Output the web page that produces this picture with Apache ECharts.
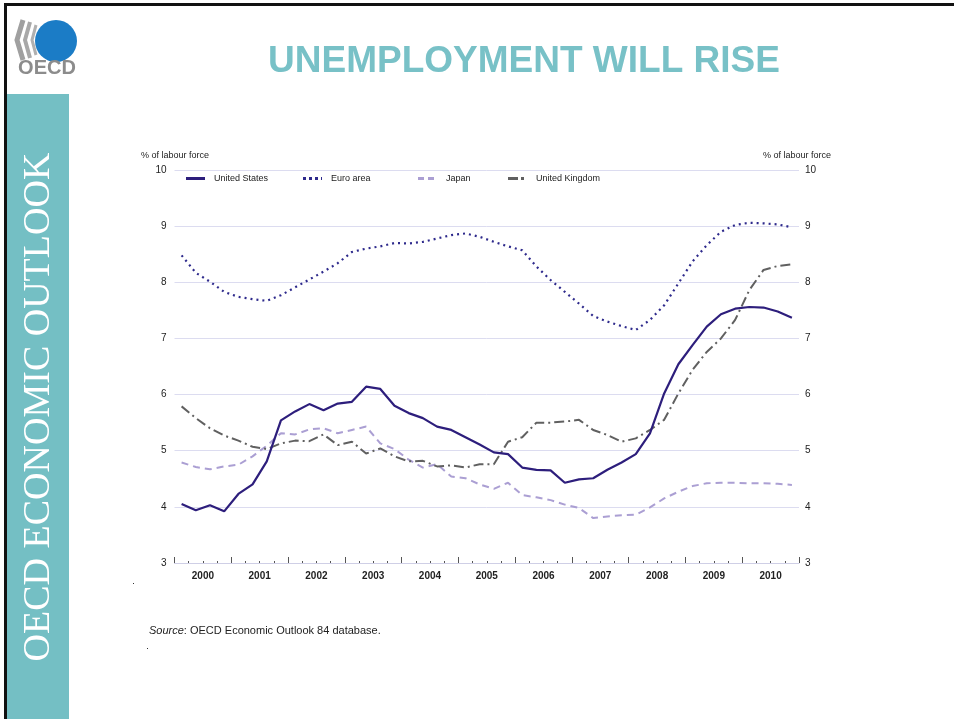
<!DOCTYPE html>
<html>
<head>
<meta charset="utf-8">
<script src="https://cdn.jsdelivr.net/npm/echarts@6/dist/echarts.min.js"></script>
<style>
html,body{margin:0;padding:0;background:#fff;}
#chart{width:954px;height:719px;}
</style>
</head>
<body>
<div id="chart"></div>
<script>
var years = ['2000','2001','2002','2003','2004','2005','2006','2007','2008','2009','2010'];
var quarters = [];
years.forEach(function(y){ ['Q1','Q2','Q3','Q4'].forEach(function(q){ quarters.push(y + q); }); });

var unitedStates = [4.05,3.94,4.03,3.92, 4.23,4.40,4.81,5.54, 5.70,5.83,5.72,5.84, 5.87,6.14,6.10,5.80,
  5.67,5.58,5.43,5.37, 5.24,5.11,4.97,4.94, 4.70,4.66,4.65,4.43, 4.49,4.51,4.66,4.79,
  4.94,5.31,6.02,6.54, 6.88,7.21,7.43,7.53, 7.56,7.55,7.48,7.37];
var euroArea = [8.48,8.17,8.01,7.83, 7.74,7.70,7.67,7.77, 7.91,8.05,8.19,8.34, 8.54,8.60,8.64,8.70,
  8.69,8.72,8.78,8.84, 8.87,8.81,8.72,8.64, 8.57,8.28,8.04,7.83, 7.62,7.40,7.30,7.22,
  7.15,7.33,7.59,7.98, 8.37,8.66,8.90,9.02, 9.06,9.05,9.03,8.98];
var japan = [4.79,4.71,4.67,4.72, 4.75,4.90,5.09,5.31, 5.29,5.38,5.40,5.31, 5.37,5.43,5.13,5.03,
  4.84,4.70,4.76,4.54, 4.51,4.40,4.32,4.43, 4.21,4.17,4.12,4.04, 3.98,3.80,3.83,3.85,
  3.86,3.99,4.15,4.27, 4.37,4.42,4.43,4.43, 4.42,4.42,4.41,4.39];
var unitedKingdom = [5.79,5.58,5.40,5.27, 5.18,5.07,5.03,5.13, 5.18,5.17,5.29,5.10, 5.16,4.95,5.04,4.90,
  4.81,4.82,4.72,4.74, 4.70,4.76,4.76,5.16, 5.24,5.50,5.50,5.52, 5.55,5.37,5.28,5.16,
  5.22,5.37,5.55,6.02, 6.44,6.76,7.00,7.33, 7.86,8.22,8.29,8.32];
var seriesNames = ['United States','Euro area','Japan','United Kingdom'];

var chart = echarts.init(document.getElementById('chart'), null, {renderer:'canvas'});
var font = '"Liberation Sans", Arial, sans-serif';
var axisCol = '#cfcfe6';

var lineStyles = [
  {color:'#2d1e7c', width:2.2, type:'solid'},
  {color:'#2e2a8c', width:2.2, type:[2,4]},
  {color:'#ab9fd3', width:2, type:[7,5]},
  {color:'#606060', width:2, type:[10,4,2,4]}
];
var legendStyles = [
  {stroke:'#2d1e7c', lineWidth:3},
  {stroke:'#2e2a8c', lineWidth:3, lineDash:[3,3]},
  {stroke:'#ab9fd3', lineWidth:3, lineDash:[6,4]},
  {stroke:'#606060', lineWidth:3, lineDash:[10,3,3,3]}
];
var legendX = [186, 303, 418, 508];

var legendGraphics = [];
seriesNames.forEach(function(n, k){
  var st = legendStyles[k];
  st.fill = null;
  legendGraphics.push({type:'line', shape:{x1:legendX[k], y1:178.5, x2:legendX[k]+19, y2:178.5}, style:st, silent:true});
  legendGraphics.push({type:'text', x:legendX[k]+28, y:178.5, style:{text:n, fill:'#222', font:'9px "Liberation Sans", Arial, sans-serif', align:'left', verticalAlign:'middle'}});
});

var option = {
  animation:false,
  backgroundColor:'#fff',
  grid:{left:174.5, right:155, top:170, bottom:156, containLabel:false},
  xAxis:[
    {type:'category', data:quarters, boundaryGap:true, position:'bottom',
     axisLine:{show:true, lineStyle:{color:axisCol, width:1}},
     axisTick:{show:true, inside:true, length:2, interval:0, lineStyle:{color:'#555'}},
     axisLabel:{show:false}, splitLine:{show:false}},
    {type:'category', data:years, boundaryGap:true, position:'bottom',
     axisLine:{show:false},
     axisTick:{show:true, inside:true, length:6, interval:0, lineStyle:{color:'#555'}},
     axisLabel:{show:true, margin:8, fontFamily:font, fontSize:10, fontWeight:'bold', color:'#222'},
     splitLine:{show:false}}
  ],
  yAxis:[
    {type:'value', min:3, max:10, interval:1, position:'left',
     axisLine:{show:false}, axisTick:{show:false},
     axisLabel:{margin:8, fontFamily:font, fontSize:10, color:'#222'},
     splitLine:{show:true, lineStyle:{color:'#dcdcf0', width:1}}},
    {type:'value', min:3, max:10, interval:1, position:'right',
     axisLine:{show:false}, axisTick:{show:false},
     axisLabel:{margin:6, fontFamily:font, fontSize:10, color:'#222'},
     splitLine:{show:false}}
  ],
  series:[
    {name:seriesNames[0], type:'line', data:unitedStates, showSymbol:false, symbol:'none', lineStyle:lineStyles[0], z:5},
    {name:seriesNames[1], type:'line', data:euroArea, showSymbol:false, symbol:'none', lineStyle:lineStyles[1], z:4},
    {name:seriesNames[2], type:'line', data:japan, showSymbol:false, symbol:'none', lineStyle:lineStyles[2], z:3},
    {name:seriesNames[3], type:'line', data:unitedKingdom, showSymbol:false, symbol:'none', lineStyle:lineStyles[3], z:4}
  ],
  graphic:[
    {type:'rect', shape:{x:4, y:3, width:950, height:3}, style:{fill:'#111'}, silent:true},
    {type:'rect', shape:{x:4, y:3, width:3, height:716}, style:{fill:'#111'}, silent:true},
    {type:'rect', shape:{x:7, y:94, width:62, height:625}, style:{fill:'#74bfc4'}, silent:true},
    {type:'text', x:39, y:407, rotation:Math.PI/2, style:{text:'OECD ECONOMIC OUTLOOK', fill:'#fff',
      font:'38px "Liberation Serif", "DejaVu Serif", serif', align:'center', verticalAlign:'middle'}},
    {type:'circle', shape:{cx:56, cy:41, r:21}, style:{fill:'#1b7cc6'}, silent:true},
    {type:'polyline', shape:{points:[[23,20],[17,40],[23,60]]}, style:{stroke:'#a0a0a0', lineWidth:5, fill:null}},
    {type:'polyline', shape:{points:[[30,22],[25,40],[30,58]]}, style:{stroke:'#a8a8a8', lineWidth:4, fill:null}},
    {type:'polyline', shape:{points:[[36,25],[32,40],[36,55]]}, style:{stroke:'#b0b0b0', lineWidth:3, fill:null}},
    {type:'text', x:47, y:68, style:{text:'OECD', fill:'#8c8c8c', font:'bold 20px "Liberation Sans", Arial, sans-serif', align:'center', verticalAlign:'middle'}},
    {type:'text', x:524, y:62, style:{text:'UNEMPLOYMENT WILL RISE', fill:'#78c1c7',
      font:'bold 37px "Liberation Sans", Arial, sans-serif', align:'center', verticalAlign:'middle'}},
    {type:'text', x:141, y:156, style:{text:'% of labour force', fill:'#222', font:'9px "Liberation Sans", Arial, sans-serif', align:'left', verticalAlign:'middle'}},
    {type:'text', x:831, y:156, style:{text:'% of labour force', fill:'#222', font:'9px "Liberation Sans", Arial, sans-serif', align:'right', verticalAlign:'middle'}},
    {type:'text', x:149, y:631, style:{
      text:'{i|Source}: OECD Economic Outlook 84 database.',
      fill:'#222', font:'11px "Liberation Sans", Arial, sans-serif', align:'left', verticalAlign:'middle',
      rich:{i:{fontStyle:'italic', fontSize:11, fontFamily:font, fill:'#222'}}}},
    {type:'rect', shape:{x:133, y:583, width:1, height:1}, style:{fill:'#333'}, silent:true},
    {type:'rect', shape:{x:147, y:648, width:1, height:1}, style:{fill:'#333'}, silent:true}
  ].concat(legendGraphics)
};
chart.setOption(option);
</script>
</body>
</html>
